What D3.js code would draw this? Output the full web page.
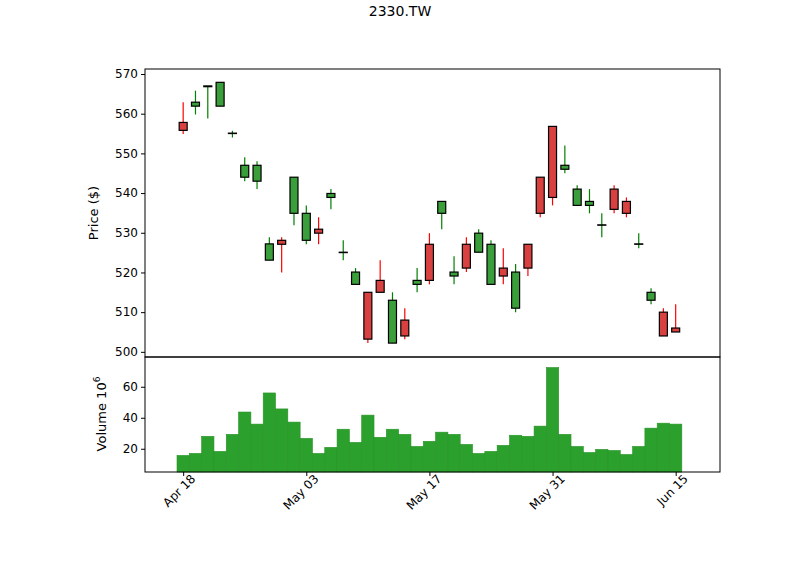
<!DOCTYPE html>
<html><head><meta charset="utf-8">
<script src="https://cdn.jsdelivr.net/npm/d3@7"></script>
<style>body{margin:0;background:#fff}text{font-family:"DejaVu Sans",sans-serif}</style>
</head><body><svg id="c" width="800" height="575"></svg>
<script>
const opens  = [557.8,561.9,566.8,561.9,555.0,544,543,523.1,528.1,534.9,528.1,530.9,538.9,525.0,517,515,518,502.2,508,517,527.1,534.9,519.1,527.1,525.1,517,521.1,511,527.1,544,556.8,546,536.9,536.9,531.9,541,537.9,527.1,513,510,506];
const closes = [555.8,562.9,567.0,567.9,555.1,547,547,527.2,527.1,544.0,534.9,529.9,539.9,525.1,520.1,503.2,515,513,504,518,518,537.9,520.1,521.1,529.9,527.1,519.1,520.1,521.1,534.9,538.9,547,541,537.9,532.0,535.9,534.9,527.2,515,504,505];
const highs  = [562.9,565.8,567.0,567.9,555.7,549,548,528.9,528.9,544.0,536.9,533.9,541.0,528.1,521.1,515,523.1,515,511,521.1,529.9,537.9,524.1,528.9,530.9,528.1,526.1,522.1,527.1,544,556.8,552,542,541,534.9,542,538.9,529.9,516,511,512];
const lows   = [554.9,559.8,558.8,561.9,554.0,543,541,523.1,520.0,531.9,527.1,527.1,535.9,523.1,517,502.2,515,502.2,503.2,515,517,530.9,517,520.1,525.1,517,517,510,519.1,533.9,536.9,545,536.9,534.9,528.9,534.9,533.9,526.1,512,504,505];
const volumes= [15.7,17,28,18.3,29.3,43.7,35.9,56,45.7,37.2,26.7,17,20.9,32.6,24.1,41.7,27.4,32.6,29.3,21.5,24.8,30.7,29.3,22.8,17,18.3,22.2,28.7,28,34.6,72.4,29.3,21.5,17.6,19.6,18.9,16.3,21.5,33.3,36.5,35.9];
const tickIdx = [0,10,20,30,40];
const tickLabels = ["Apr 18","May 03","May 17","May 31","Jun 15"];
const priceTicks = [500,510,520,530,540,550,560,570];
const volTicks = [20,40,60];

const svg = d3.select("#c");
const L=145,R=720,PT=69,PB=357,VB=472;
const x = d3.scaleLinear().domain([-3.1,43.6]).range([L,R]);
const yP = d3.scaleLinear().domain([498.7,571.26]).range([PB,PT]);
const yV = d3.scaleLinear().domain([5,79.2]).range([VB,PB]);
const step = x(1)-x(0);
const up="#3a9e3a", dn="#d94040";

svg.append("text").attr("x",400).attr("y",16).attr("text-anchor","middle").attr("font-size",14).text("2330.TW");

// volume
svg.append("g").selectAll("rect").data(volumes).join("rect")
 .attr("x",(d,i)=>x(i)-step/2).attr("width",step).attr("y",d=>yV(d)).attr("height",d=>VB-yV(d))
 .attr("fill","#2ca02c").attr("stroke","#279327").attr("stroke-width",0.6);

// candles
const g = svg.append("g");
opens.forEach((o,i)=>{
  const c=closes[i], isUp=c>=o;
  g.append("line").attr("x1",x(i)).attr("x2",x(i)).attr("y1",yP(highs[i])).attr("y2",yP(lows[i]))
   .attr("stroke",isUp?"#008000":"#ff0000").attr("stroke-width",1.2);
  const top=yP(Math.max(o,c)), bot=yP(Math.min(o,c));
  g.append("rect").attr("x",x(i)-4).attr("width",8).attr("y",top).attr("height",Math.max(bot-top,0.3))
   .attr("fill",isUp?up:dn).attr("stroke","#000").attr("stroke-width",1.2);
});

// frames
svg.append("rect").attr("x",L).attr("y",PT).attr("width",R-L).attr("height",PB-PT).attr("fill","none").attr("stroke","#000");
svg.append("rect").attr("x",L).attr("y",PB).attr("width",R-L).attr("height",VB-PB).attr("fill","none").attr("stroke","#000");

const ay = svg.append("g").attr("transform",`translate(${L},0)`).call(d3.axisLeft(yP).tickValues(priceTicks).tickSize(4).tickPadding(3));
const av = svg.append("g").attr("transform",`translate(${L},0)`).call(d3.axisLeft(yV).tickValues(volTicks).tickSize(4).tickPadding(3));
const ax = svg.append("g").attr("transform",`translate(0,${VB})`).call(d3.axisBottom(x).tickValues(tickIdx).tickFormat((d,i)=>tickLabels[i]).tickSize(4));
[ay,av,ax].forEach(a=>{a.select(".domain").remove();a.selectAll("text").attr("font-size",12).attr("fill","#000").style("font-family","DejaVu Sans");a.selectAll("line").attr("stroke","#000");});
ax.selectAll("text").attr("text-anchor","end").attr("dx","0.3em").attr("dy","0.6em").attr("transform","rotate(-45)");

svg.append("text").attr("transform","translate(98,213) rotate(-90)").attr("text-anchor","middle").attr("font-size",13).text("Price ($)");
const vl = svg.append("text").attr("transform","translate(106,414) rotate(-90)").attr("text-anchor","middle").attr("font-size",13);
vl.append("tspan").text("Volume  10");
vl.append("tspan").attr("dy",-6).attr("font-size",9).text("6");
</script></body></html>
